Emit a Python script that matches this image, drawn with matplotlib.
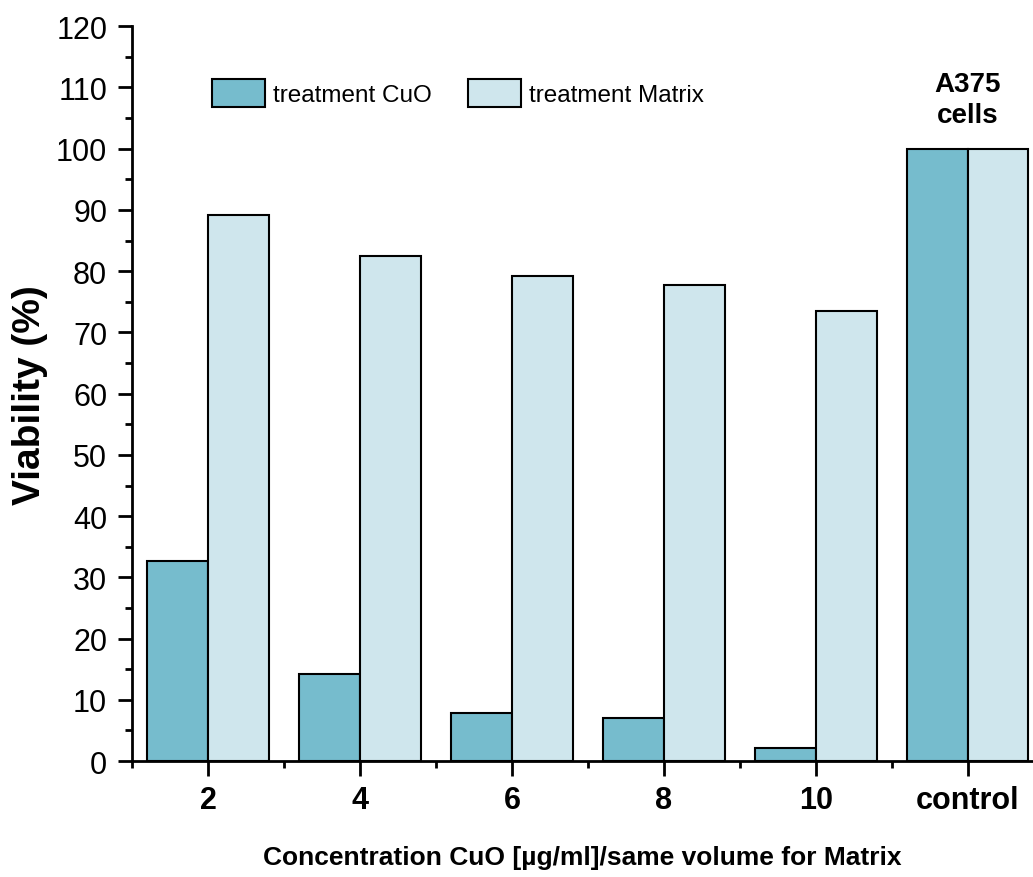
import numpy as np
import matplotlib.pyplot as plt
from matplotlib.ticker import MultipleLocator, FixedLocator

plt.rcParams['font.family'] = ['Liberation Sans', 'DejaVu Sans']

# Data
categories = ['2', '4', '6', '8', '10', 'control']
cuo = [32.7, 14.2, 7.8, 7.0, 2.1, 100.0]
matrix = [89.1, 82.4, 79.2, 77.7, 73.5, 100.0]

CUO_COLOR = '#76bccd'
MATRIX_COLOR = '#cfe6ed'

fig = plt.figure(figsize=(10.33, 8.78), dpi=100)
ax = fig.add_axes([0.128, 0.132, 0.872, 0.837])

x = np.arange(len(categories))
w = 0.4
ax.bar(x - w / 2, cuo, w, color=CUO_COLOR, edgecolor='black', linewidth=1.5,
       label='treatment CuO')
ax.bar(x + w / 2, matrix, w, color=MATRIX_COLOR, edgecolor='black', linewidth=1.5,
       label='treatment Matrix')

ax.set_xlim(-0.5, 5.43)
ax.set_ylim(0, 120)

ax.spines['top'].set_visible(False)
ax.spines['right'].set_visible(False)
ax.spines['left'].set_linewidth(2)
ax.spines['bottom'].set_linewidth(2)

ax.yaxis.set_major_locator(MultipleLocator(10))
ax.yaxis.set_minor_locator(MultipleLocator(5))
ax.tick_params(axis='y', which='major', length=10, width=2, labelsize=22, pad=8)
ax.tick_params(axis='y', which='minor', length=5, width=2)

ax.set_xticks(x)
ax.set_xticklabels(categories, fontweight='bold')
ax.xaxis.set_minor_locator(FixedLocator(np.arange(-0.5, 5.5, 1)))
ax.tick_params(axis='x', which='major', length=11, width=2, labelsize=22, pad=6)
ax.tick_params(axis='x', which='minor', length=5, width=2)

ax.set_ylabel('Viability (%)', fontsize=28, fontweight='bold', labelpad=6)
ax.set_xlabel('Concentration CuO [µg/ml]/same volume for Matrix', fontsize=19,
              fontweight='bold', labelpad=22)

ax.text(5, 103.3, 'A375\ncells', ha='center', va='bottom', fontsize=20,
        fontweight='bold', linespacing=1.25)

ax.legend(loc='upper left', bbox_to_anchor=(0.064, 0.958), ncol=2, frameon=False,
          fontsize=17.5, handlelength=2.18, handleheight=1.4, handletextpad=0.33,
          columnspacing=1.5)

fig.savefig('out.png', dpi=100)
